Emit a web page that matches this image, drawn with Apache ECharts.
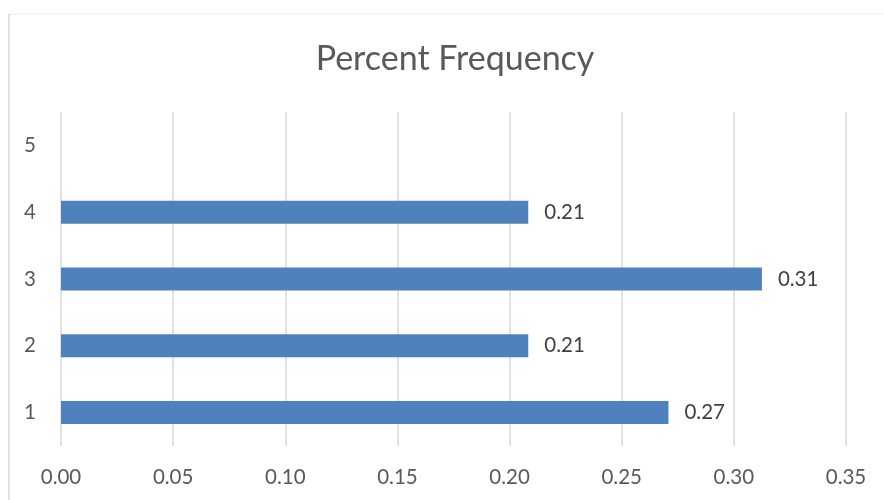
<!DOCTYPE html>
<html>
<head>
<meta charset="utf-8">
<style>
  html, body { margin: 0; padding: 0; background: #ffffff; }
  #chart { width: 884px; height: 500px; }
</style>
<script src="https://cdn.jsdelivr.net/npm/echarts@6/dist/echarts.min.js"></script>
</head>
<body>
<div id="chart"></div>
<script>
// Class values and their relative frequencies (count / 48)
const categories = ['1', '2', '3', '4', '5'];
const percentFrequency = [13 / 48, 10 / 48, 15 / 48, 10 / 48, null];
const xTicks = { min: 0, max: 0.35, interval: 0.05 };

const FONT = 'Lato, "Open Sans", sans-serif';
const chart = echarts.init(document.getElementById('chart'), null, { renderer: 'canvas' });

chart.setOption({
  backgroundColor: '#ffffff',
  animation: false,
  title: {
    text: 'Percent Frequency',
    left: 450,
    textAlign: 'center',
    top: 37,
    textStyle: { color: '#595959', fontFamily: FONT, fontSize: 34, fontWeight: 'normal' }
  },
  graphic: [
    { type: 'line', shape: { x1: 9, y1: 14, x2: 884, y2: 14 }, style: { stroke: '#eeeeee', lineWidth: 1 } },
    { type: 'line', shape: { x1: 9, y1: 14, x2: 9, y2: 500 }, style: { stroke: '#d9d9d9', lineWidth: 1.5 } }
  ],
  grid: { left: 61, right: 38, top: 112, bottom: 54, containLabel: false },
  xAxis: {
    type: 'value',
    min: xTicks.min,
    max: xTicks.max,
    interval: xTicks.interval,
    axisLine: { show: false },
    axisTick: { show: false },
    splitLine: { show: true, lineStyle: { color: '#d9d9d9', width: 1.5 } },
    axisLabel: {
      margin: 21,
      color: '#595959',
      fontFamily: FONT,
      fontSize: 20.5,
      formatter: v => v.toFixed(2)
    }
  },
  yAxis: {
    type: 'category',
    data: categories,
    axisLine: { show: false },
    axisTick: { show: false },
    splitLine: { show: false },
    axisLabel: { margin: 25, color: '#595959', fontFamily: FONT, fontSize: 20.5 }
  },
  series: [{
    type: 'bar',
    data: percentFrequency,
    barWidth: 23,
    itemStyle: { color: '#4f81bd' },
    label: {
      show: true,
      position: 'right',
      distance: 16,
      color: '#404040',
      fontFamily: FONT,
      fontSize: 20.5,
      formatter: p => (p.value == null ? '' : p.value.toFixed(2))
    }
  }]
});
</script>
</body>
</html>
